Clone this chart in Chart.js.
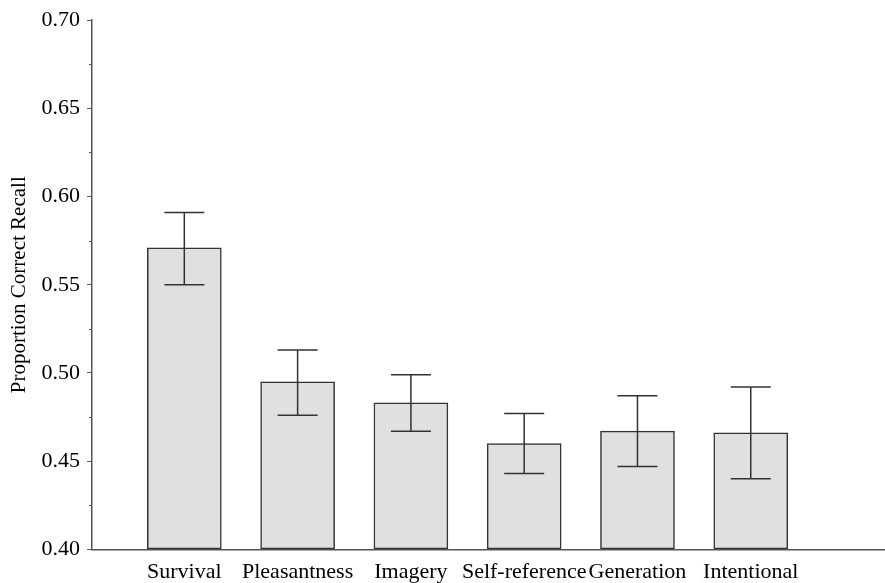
<!DOCTYPE html>
<html>
<head>
<meta charset="utf-8">
<script src="https://cdn.jsdelivr.net/npm/chart.js@4.4.1/dist/chart.umd.min.js"></script>
<style>
  html, body { margin: 0; padding: 0; background: #ffffff; }
  #wrap { width: 885px; height: 583px; position: relative; }
</style>
</head>
<body>
<div id="wrap"><canvas id="c" width="885" height="583"></canvas></div>
<script>
// ---- data ----
const categories = ["Survival", "Pleasantness", "Imagery", "Self-reference", "Generation", "Intentional"];
const recallMeans = [0.571, 0.495, 0.483, 0.460, 0.467, 0.466];
const errorLow    = [0.550, 0.476, 0.467, 0.443, 0.447, 0.440];
const errorHigh   = [0.591, 0.513, 0.499, 0.477, 0.487, 0.492];
const yTicks = [0.40, 0.45, 0.50, 0.55, 0.60, 0.65, 0.70];

const FONT = "'Liberation Serif', 'Times New Roman', serif";
const AXIS = '#555555';
const INK = '#333333';

const errorBars = {
  id: 'errorBars',
  afterDatasetsDraw(chart) {
    const ctx = chart.ctx;
    const xs = chart.scales.x, ys = chart.scales.y;
    ctx.save();
    ctx.strokeStyle = INK;
    ctx.lineWidth = 1.5;
    const half = 20;
    categories.forEach((c, i) => {
      const x = xs.getPixelForValue(i);
      const yl = ys.getPixelForValue(errorLow[i]);
      const yh = ys.getPixelForValue(errorHigh[i]);
      ctx.beginPath();
      ctx.moveTo(x, yh); ctx.lineTo(x, yl);
      ctx.moveTo(x - half, yh); ctx.lineTo(x + half, yh);
      ctx.moveTo(x - half, yl); ctx.lineTo(x + half, yl);
      ctx.stroke();
    });
    // minor ticks on the y axis
    ctx.strokeStyle = AXIS;
    ctx.lineWidth = 1;
    const left = chart.chartArea.left;
    for (let k = 0; k < yTicks.length - 1; k++) {
      const v = (yTicks[k] + yTicks[k + 1]) / 2;
      const y = Math.round(ys.getPixelForValue(v)) + 0.5;
      ctx.beginPath(); ctx.moveTo(left - 3, y); ctx.lineTo(left, y); ctx.stroke();
    }
    ctx.restore();
  }
};

new Chart(document.getElementById('c'), {
  type: 'bar',
  data: {
    datasets: [{
      data: categories.map((c, i) => ({ x: i, y: recallMeans[i] })),
      backgroundColor: '#e0e0e0',
      borderColor: INK,
      borderWidth: 1.5,
      borderSkipped: false,
      barThickness: 74,
      base: 0.40
    }]
  },
  options: {
    responsive: false,
    animation: false,
    events: [],
    layout: { padding: { left: 0, right: 0, top: 19, bottom: 0 } },
    plugins: { legend: { display: false }, tooltip: { enabled: false } },
    scales: {
      x: {
        type: 'linear',
        offset: false,
        min: -0.815,
        max: 6.185,
        afterBuildTicks(scale) { scale.ticks = categories.map((c, i) => ({ value: i })); },
        afterFit(scale) { scale.height = 33.7; },
        grid: { display: false, drawTicks: false, offset: false },
        border: { display: true, color: AXIS, width: 1.5 },
        ticks: {
          autoSkip: false,
          maxRotation: 0,
          padding: 10,
          color: '#000',
          font: { family: FONT, size: 22 },
          callback: (v) => categories[v] !== undefined ? categories[v] : ''
        }
      },
      y: {
        min: 0.40,
        max: 0.70,
        afterBuildTicks(scale) { scale.ticks = yTicks.map(v => ({ value: v })); },
        afterFit(scale) { scale.width = 92; },
        grid: { display: true, drawOnChartArea: false, drawTicks: true, tickLength: 5, tickColor: AXIS, tickWidth: 1 },
        border: { display: true, color: AXIS, width: 1.5 },
        ticks: {
          padding: 7,
          color: '#000',
          font: { family: FONT, size: 22 },
          callback: (v) => v.toFixed(2)
        },
        title: {
          display: true,
          text: 'Proportion Correct Recall',
          color: '#000',
          font: { family: FONT, size: 21 },
          padding: { top: 7, bottom: 0 }
        }
      }
    }
  },
  plugins: [errorBars]
});
</script>
</body>
</html>
